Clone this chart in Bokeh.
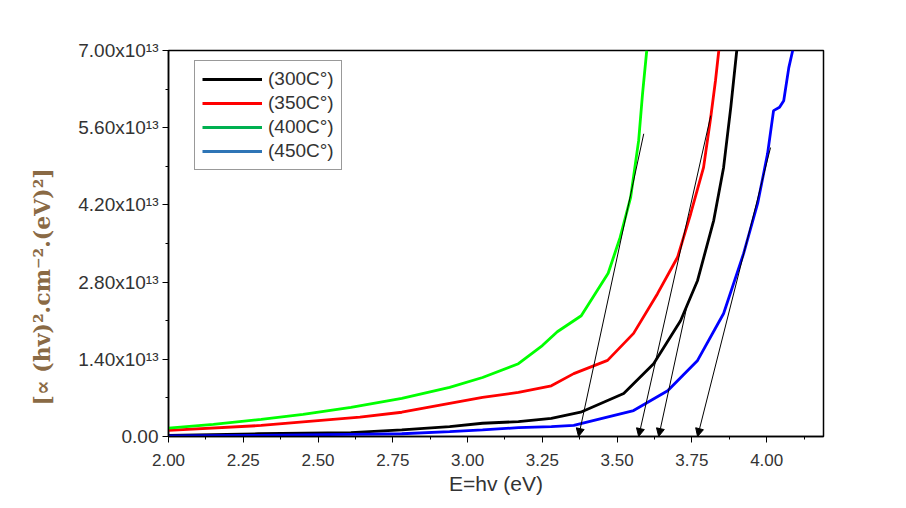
from bokeh.plotting import figure
from bokeh.models import (Range1d, FixedTicker, Legend, LegendItem, Arrow, NormalHead, Title)
from bokeh.embed import file_html
from bokeh.resources import INLINE

# ---- data (y in units of 1e13) ----
E_300 = [2.0, 2.3, 2.61, 2.78, 2.94, 3.05, 3.17, 3.28, 3.378, 3.522, 3.622, 3.712, 3.769, 3.823, 3.856, 3.88, 3.90]
Y_300 = [0.02, 0.05, 0.07, 0.12, 0.18, 0.24, 0.27, 0.33, 0.44, 0.78, 1.32, 2.10, 2.83, 3.92, 4.88, 5.97, 7.0]

E_350 = [2.0, 2.31, 2.64, 2.78, 2.94, 3.05, 3.17, 3.28, 3.355, 3.468, 3.555, 3.635, 3.702, 3.746, 3.789, 3.813, 3.829, 3.84]
Y_350 = [0.11, 0.20, 0.35, 0.44, 0.60, 0.71, 0.80, 0.92, 1.14, 1.38, 1.87, 2.59, 3.25, 4.04, 4.88, 5.79, 6.46, 7.0]

E_400 = [2.0, 2.15, 2.31, 2.45, 2.61, 2.78, 2.94, 3.05, 3.17, 3.25, 3.30, 3.38, 3.47, 3.51, 3.545, 3.572, 3.585, 3.599]
Y_400 = [0.15, 0.22, 0.31, 0.40, 0.53, 0.69, 0.89, 1.07, 1.32, 1.65, 1.90, 2.19, 2.96, 3.61, 4.33, 5.37, 6.22, 7.0]

E_450 = [2.0, 2.3, 2.61, 2.78, 2.94, 3.05, 3.17, 3.28, 3.355, 3.555, 3.669, 3.769, 3.856, 3.923, 3.97, 4.003, 4.023, 4.043, 4.057, 4.074, 4.087]
Y_450 = [0.01, 0.02, 0.04, 0.05, 0.09, 0.12, 0.16, 0.18, 0.20, 0.47, 0.83, 1.38, 2.23, 3.32, 4.23, 5.13, 5.91, 5.97, 6.09, 6.69, 7.0]

# tangent (Tauc extrapolation) lines: start point on curve, end on the energy axis
tan_x0 = [3.589, 3.813, 3.736, 4.013]
tan_y0 = [5.49, 5.82, 2.43, 5.24]
tan_x1 = [3.371, 3.572, 3.639, 3.769]
tan_y1 = [0.0, 0.0, 0.0, 0.0]

labels = ["(300C°)", "(350C°)", "(400C°)", "(450C°)"]
line_colors = ["#000000", "#ff0000", "#00ff00", "#0000ff"]
legend_colors = ["#000000", "#ff0000", "#00b050", "#2e75b6"]

x_ticks = [2.0, 2.25, 2.5, 2.75, 3.0, 3.25, 3.5, 3.75, 4.0]
y_ticks = [0.0, 1.4, 2.8, 4.2, 5.6, 7.0]
y_tick_labels = ["0.00", "1.40x10¹³", "2.80x10¹³", "4.20x10¹³", "5.60x10¹³", "7.00x10¹³"]
y_title = "[∝ (hv)².cm⁻².(eV)²]"
x_title = "E=hv (eV)"

p = figure(width=900, height=500, output_backend="svg", toolbar_location=None,
           x_range=Range1d(2.0, 4.19), y_range=Range1d(0, 7.0),
           min_border_left=168, min_border_right=77, min_border_top=50, min_border_bottom=64)
p.grid.visible = False
p.outline_line_color = "#000000"
p.outline_line_width = 1.5
p.background_fill_color = "white"
p.border_fill_color = "white"

series = [(E_300, Y_300), (E_350, Y_350), (E_400, Y_400), (E_450, Y_450)]
for (ex, ey), c in zip(series, line_colors):
    p.line(ex, ey, line_color=c, line_width=2.8)

for i in range(len(tan_x0)):
    p.add_layout(Arrow(end=NormalHead(size=8, fill_color="black", line_color="black", line_width=1),
                       x_start=tan_x0[i], y_start=tan_y0[i], x_end=tan_x1[i], y_end=tan_y1[i],
                       line_color="black", line_width=1))

# legend with its own colours (off-data dummy renderers)
nan = float("nan")
items = []
for lab, c in zip(labels, legend_colors):
    r = p.line([nan], [nan], line_color=c, line_width=3)
    items.append(LegendItem(label=lab, renderers=[r]))
leg = Legend(items=items, location=(26, 266))
leg.padding = 7
leg.spacing = 2
leg.glyph_height = 20
leg.label_height = 20
leg.glyph_width = 60
leg.label_standoff = 6
leg.label_text_font = "Liberation Sans"
leg.label_text_font_size = "19px"
leg.label_text_color = "#333333"
leg.border_line_color = "#333333"
leg.border_line_width = 1.2
leg.margin = 0
p.add_layout(leg, "center")

# axes
xa = p.xaxis[0]
xa.ticker = FixedTicker(ticks=x_ticks, minor_ticks=[2.0 + 0.125 * k for k in range(18)])
xa.major_label_overrides = {t: f"{t:.2f}" for t in x_ticks}
xa.axis_label = x_title
xa.axis_label_text_font = "Liberation Sans"
xa.axis_label_text_font_size = "21px"
xa.axis_label_text_font_style = "normal"
xa.axis_label_text_color = "#333333"
xa.axis_label_standoff = 3
xa.major_label_text_font = "Liberation Sans"
xa.major_label_text_font_size = "17px"
xa.major_label_text_color = "#333333"
xa.major_label_standoff = 11

ya = p.yaxis[0]
ya.ticker = FixedTicker(ticks=y_ticks, minor_ticks=[0.7 * k for k in range(11)])
ya.major_label_overrides = {t: s for t, s in zip(y_ticks, y_tick_labels)}
ya.major_label_text_font = "Liberation Sans"
ya.major_label_text_font_size = "19px"
ya.major_label_text_color = "#333333"
ya.major_label_standoff = 4

# y-axis title, placed below centre as in the original
yt = Title(text=y_title, align="left", offset=31, standoff=42,
           text_font="DejaVu Serif", text_font_size="22px", text_font_style="bold",
           text_color="#8a6a45")
p.add_layout(yt, "left")

for ax in (xa, ya):
    ax.axis_line_color = "black"
    ax.axis_line_width = 1.5
    ax.major_tick_in = 0
    ax.major_tick_out = 6
    ax.minor_tick_in = 0
    ax.minor_tick_out = 3
    ax.major_tick_line_color = "black"
    ax.minor_tick_line_color = "black"

open("out.html", "w").write(file_html(p, INLINE))
